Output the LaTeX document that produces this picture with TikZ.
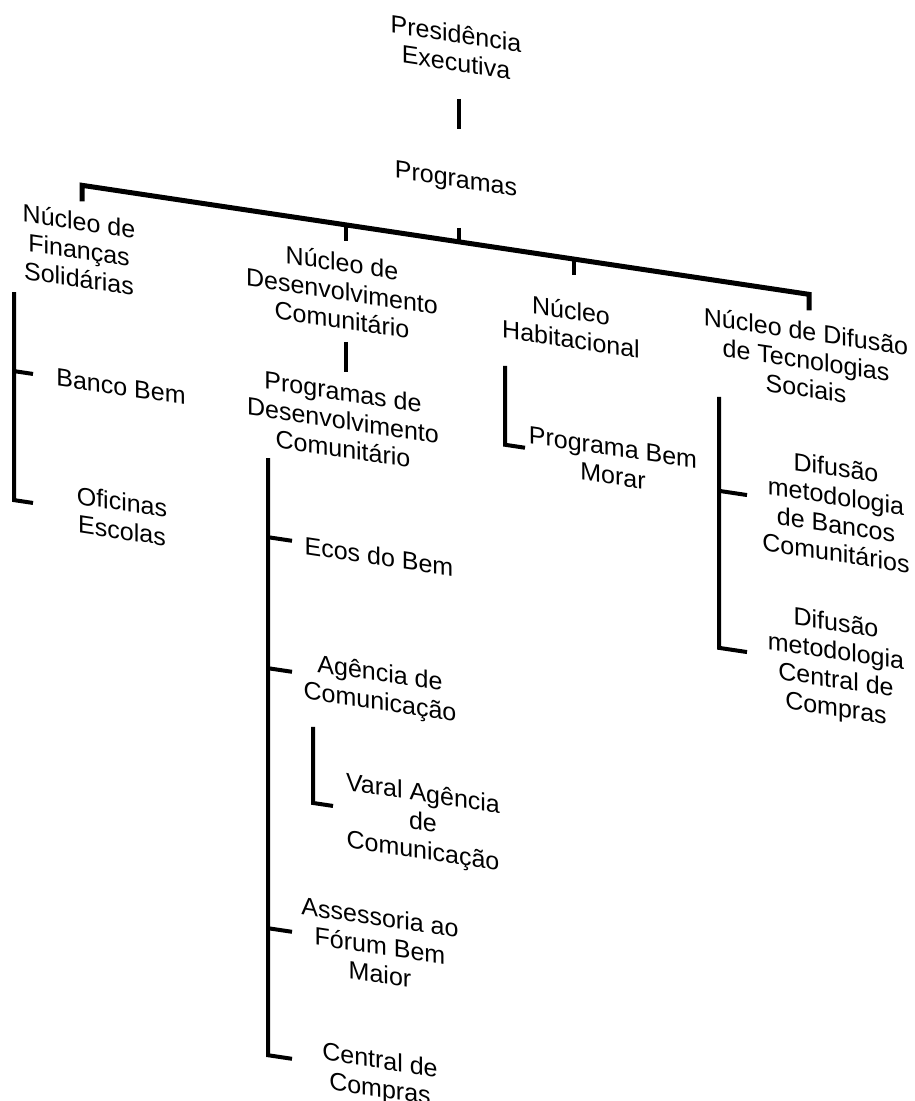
\documentclass[tikz,border=0pt]{standalone}
\usepackage{fontspec}
\setmainfont{Liberation Sans}
\begin{document}
\begin{tikzpicture}
\useasboundingbox[fill=white] (0,0) rectangle (914pt,-1101pt);
\tikzset{
  lbl/.style={inner sep=0pt, align=center, transform shape,
    font=\fontsize{25}{28.5}\selectfont,
    execute at begin node=\strut, execute at end node=\strut},
  conn/.style={line width=4pt, line join=miter, line cap=butt},
  barline/.style={line width=5pt, line join=miter, line cap=butt}
}
\begin{scope}[x=1pt, y=-1pt, yslant=-0.15]
  % nodes
  \node[lbl] (pres)    at (456,-16.4) {Presidência\\Executiva};
  \node[lbl] (prog)    at (456,113)   {Programas};
  \node[lbl] (fin)     at (79,242)    {Núcleo de\\Finanças\\Solidárias};
  \node[lbl] (dev)     at (342,244)   {Núcleo de\\Desenvolvimento\\Comunitário};
  \node[lbl] (hab)     at (571,243)   {Núcleo\\Habitacional};
  \node[lbl] (dif)     at (806,243)   {Núcleo de Difusão\\de Tecnologias\\Sociais};
  \node[lbl] (pdev)    at (343,373)   {Programas de\\Desenvolvimento\\Comunitário};
  \node[lbl] (banco)   at (121,371.5) {Banco Bem};
  \node[lbl] (ofic)    at (122,502)   {Oficinas\\Escolas};
  \node[lbl] (morar)   at (613,374)   {Programa Bem\\Morar};
  \node[lbl] (ecos)    at (379,503)   {Ecos do Bem};
  \node[lbl] (agen)    at (380,634)   {Agência de\\Comunicação};
  \node[lbl] (varal)   at (423,762)   {Varal Agência\\de\\Comunicação};
  \node[lbl] (assess)  at (380,893)   {Assessoria ao\\Fórum Bem\\Maior};
  \node[lbl] (central) at (380,1021)  {Central de\\Compras};
  \node[lbl] (difb)    at (836,389)   {Difusão\\metodologia\\de Bancos\\Comunitários};
  \node[lbl] (difc)    at (836,543.5) {Difusão\\metodologia\\Central de\\Compras};

  % connector coordinates
  \coordinate (presB) at (459,30);
  \coordinate (progT) at (459,60);
  \coordinate (progB) at (459,159);
  \coordinate (progJ) at (459,173);
  \coordinate (barL)  at (82,173);
  \coordinate (barR)  at (809,173);
  \coordinate (finT)  at (82,189);
  \coordinate (difT)  at (809,189);
  \coordinate (devJ)  at (346,173);
  \coordinate (devT)  at (346,189);
  \coordinate (habJ)  at (574,173);
  \coordinate (habT)  at (574,189);

  \coordinate (finB)   at (14,290);
  \coordinate (finE)   at (14,498);
  \coordinate (bancoJ) at (14,369);
  \coordinate (bancoW) at (33,369);
  \coordinate (oficW)  at (33,498);

  \coordinate (devB)   at (346,290);
  \coordinate (pdevT)  at (346,320);

  \coordinate (pdevB)  at (268,418);
  \coordinate (ecosJ)  at (268,497);
  \coordinate (ecosW)  at (292,497);
  \coordinate (agenJ)  at (268,628);
  \coordinate (agenW)  at (292,628);
  \coordinate (assJ)   at (268,888);
  \coordinate (assW)   at (292,888);
  \coordinate (cenJ)   at (268,1015);
  \coordinate (cenW)   at (292,1015);

  \coordinate (agenB)  at (313,680);
  \coordinate (varJ)   at (313,756);
  \coordinate (varW)   at (333,756);

  \coordinate (habB)   at (505,290);
  \coordinate (morJ)   at (505,369);
  \coordinate (morW)   at (525,369);

  \coordinate (difB)   at (719,289);
  \coordinate (difbJ)  at (719,383);
  \coordinate (difbW)  at (747,383);
  \coordinate (difcJ)  at (719,540);
  \coordinate (difcW)  at (747,540);

  % connectors
  \draw[conn] (presB) -- (progT);
  \draw[barline] (finT) -- (barL) -- (barR) -- (difT);
  \draw[conn] (progB) -- (progJ);
  \draw[conn] (devJ) -- (devT);
  \draw[conn] (habJ) -- (habT);

  \draw[conn] (finB) -- (finE) -- (oficW);
  \draw[conn] (bancoJ) -- (bancoW);

  \draw[conn] (devB) -- (pdevT);

  \draw[conn] (pdevB) -- (cenJ) -- (cenW);
  \draw[conn] (ecosJ) -- (ecosW);
  \draw[conn] (agenJ) -- (agenW);
  \draw[conn] (assJ) -- (assW);

  \draw[conn] (agenB) -- (varJ) -- (varW);

  \draw[conn] (habB) -- (morJ) -- (morW);

  \draw[conn] (difB) -- (difcJ) -- (difcW);
  \draw[conn] (difbJ) -- (difbW);
\end{scope}
\end{tikzpicture}
\end{document}
